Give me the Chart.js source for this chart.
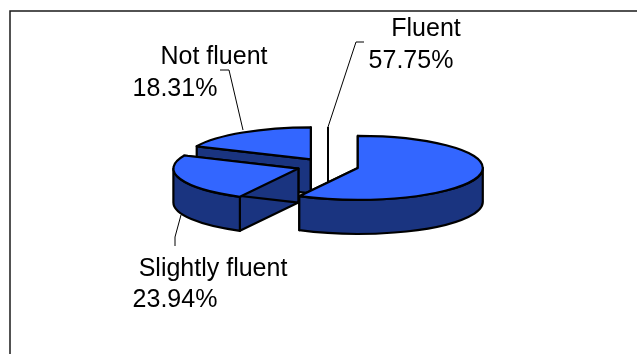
<!DOCTYPE html>
<html>
<head>
<meta charset="utf-8">
<title>Fluency</title>
<style>
  html, body { margin: 0; padding: 0; background: #fff; overflow: hidden; }
  canvas { display: block; }
</style>
<script src="https://cdn.jsdelivr.net/npm/chart.js@4"></script>
</head>
<body>
<canvas id="fluencyChart" width="637" height="354"></canvas>
<script>
// Share of respondents per fluency level
const categories = ["Fluent", "Slightly fluent", "Not fluent"];
const shares = [57.75, 23.94, 18.31];

// Text anchors and leader lines for each category, same order as above
const labelSpots = [
  { name: [426, 36], value: [411, 68] },
  { name: [213, 276], value: [175, 307] },
  { name: [214, 64], value: [175, 96] }
];
const leaders = [
  [[364, 42], [356, 42], [328, 127]],
  [[181, 215], [175, 237], [175, 246]],
  [[220, 70], [229, 70], [243, 130]]
];

const TILT = 0.256;
const DEPTH = 34;
const TOP_COLOR = "#3366ff";
const SIDE_COLOR = "#1a3480";

function traceQuad(ctx, ax, ay, bx, by) {
  ctx.beginPath();
  ctx.moveTo(ax, ay);
  ctx.lineTo(bx, by);
  ctx.lineTo(bx, by + DEPTH);
  ctx.lineTo(ax, ay + DEPTH);
  ctx.closePath();
}

// One wedge: straight walls, curved wall, then the top face
function drawWedge(ctx, arc) {
  const { x, y, startAngle, endAngle, outerRadius } = arc.getProps(["x", "y", "startAngle", "endAngle", "outerRadius"]);
  const offset = arc.options.offset || 0;
  const mid = (startAngle + endAngle) / 2;
  const cx = x + Math.cos(mid) * offset;
  const cy = y + Math.sin(mid) * offset * TILT;
  const rx = outerRadius;
  const ry = outerRadius * TILT;

  ctx.lineWidth = 2.2;
  ctx.lineJoin = "round";
  ctx.strokeStyle = "#000";

  [startAngle, endAngle].forEach(angle => {
    traceQuad(ctx, cx, cy, cx + Math.cos(angle) * rx, cy + Math.sin(angle) * ry);
    ctx.fillStyle = SIDE_COLOR;
    ctx.fill();
    ctx.stroke();
  });

  const from = Math.max(startAngle, 0);
  const to = Math.min(endAngle, Math.PI);
  if (to > from) {
    ctx.beginPath();
    ctx.ellipse(cx, cy, rx, ry, 0, from, to);
    ctx.ellipse(cx, cy + DEPTH, rx, ry, 0, to, from, true);
    ctx.closePath();
    ctx.fillStyle = SIDE_COLOR;
    ctx.fill();
    ctx.stroke();
  }

  ctx.beginPath();
  ctx.moveTo(cx, cy);
  ctx.ellipse(cx, cy, rx, ry, 0, startAngle, endAngle);
  ctx.closePath();
  ctx.fillStyle = TOP_COLOR;
  ctx.fill();
  ctx.stroke();
}

function polyline(ctx, points) {
  ctx.beginPath();
  points.forEach((p, i) => (i ? ctx.lineTo(p[0], p[1]) : ctx.moveTo(p[0], p[1])));
  ctx.stroke();
}

const tiltedPie = {
  id: "tiltedPie",
  beforeDraw(chart) {
    const { ctx, width, height } = chart;
    ctx.save();
    ctx.fillStyle = "#fff";
    ctx.fillRect(0, 0, width, height);
    ctx.strokeStyle = "#1a1a1a";
    ctx.lineWidth = 1.5;
    polyline(ctx, [[10, height], [10, 11], [width, 11]]);
    ctx.restore();
  },
  // Wedges are painted back to front so the nearer ones cover the walls behind them
  beforeDatasetDraw(chart, args) {
    const { ctx } = chart;
    ctx.save();
    args.meta.data.slice().reverse().forEach(arc => drawWedge(ctx, arc));
    ctx.restore();
    return false;
  },
  afterDraw(chart) {
    const { ctx } = chart;
    ctx.save();
    ctx.strokeStyle = "#000";
    ctx.lineWidth = 1;
    leaders.forEach(line => polyline(ctx, line));
    ctx.lineWidth = 2;
    polyline(ctx, [[328, 127], [328, 182]]);

    ctx.fillStyle = "#000";
    ctx.font = "25px 'Liberation Sans'";
    ctx.textAlign = "center";
    ctx.textBaseline = "alphabetic";
    categories.forEach((name, i) => {
      ctx.fillText(name, labelSpots[i].name[0], labelSpots[i].name[1]);
      ctx.fillText(shares[i].toFixed(2) + "%", labelSpots[i].value[0], labelSpots[i].value[1]);
    });
    ctx.restore();
  }
};

new Chart(document.getElementById("fluencyChart"), {
  type: "pie",
  data: {
    labels: categories,
    datasets: [{
      data: shares,
      offset: 31,
      borderWidth: 2,
      borderColor: "#000",
      backgroundColor: TOP_COLOR
    }]
  },
  options: {
    responsive: false,
    animation: false,
    radius: 125,
    layout: { padding: { left: 18.4, bottom: 22 } },
    plugins: { legend: { display: false }, tooltip: { enabled: false } }
  },
  plugins: [tiltedPie]
});
</script>
</body>
</html>
